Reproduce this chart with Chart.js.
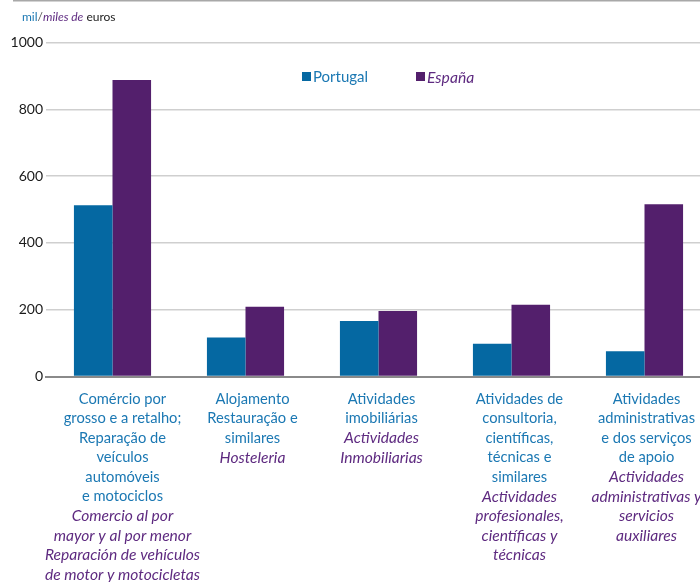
<!DOCTYPE html>
<html>
<head>
<meta charset="utf-8">
<script src="https://cdn.jsdelivr.net/npm/chart.js@4.4.1/dist/chart.umd.min.js"></script>
<style>
  html, body { margin: 0; padding: 0; background: #fff; overflow: hidden; }
  #wrap { position: relative; width: 711px; height: 582px; }
</style>
</head>
<body>
<div id="wrap"><canvas id="myChart"></canvas></div>
<script>
// category labels: Portuguese lines (blue) then Spanish lines (purple italic)
const labelsPt = [
  ["Comércio por", "grosso e a retalho;", "Reparação de", "veículos", "automóveis", "e motociclos"],
  ["Alojamento", "Restauração e", "similares"],
  ["Atividades", "imobiliárias"],
  ["Atividades de", "consultoria,", "científicas,", "técnicas e", "similares"],
  ["Atividades", "administrativas", "e dos serviços", "de apoio"]
];
const labelsEs = [
  ["Comercio al por", "mayor y al por menor", "Reparación de vehículos", "de motor y motocicletas"],
  ["Hosteleria"],
  ["Actividades", "Inmobiliarias"],
  ["Actividades", "profesionales,", "científicas y", "técnicas"],
  ["Actividades", "administrativas y", "servicios", "auxiliares"]
];
const portugal = [513, 117, 166, 98, 76];
const espana = [888, 209, 196, 215, 516];
const yTicks = [0, 200, 400, 600, 800, 1000];

const BLUE = "#0568a2";
const PURPLE = "#531f6c";
const TXT_BLUE = "#1b78b3";
const TXT_PURPLE = "#5e2a80";
const FONT = "Lato, 'Noto Sans', sans-serif";
// the label boxes in the original sit a little right of their bar pairs
const labelNudge = [10, 7, 3, 8, 2];

// draws the unit title, the legend and the two-language category labels
const textPlugin = {
  id: 'textPlugin',
  afterDraw(chart) {
    const ctx = chart.ctx;
    const x = chart.scales.x;
    ctx.save();

    // top rule
    ctx.strokeStyle = "#a8a8a8";
    ctx.lineWidth = 1.5;
    ctx.beginPath();
    ctx.moveTo(13, 0.75);
    ctx.lineTo(chart.width, 0.75);
    ctx.stroke();

    // unit title
    ctx.textBaseline = "middle";
    ctx.textAlign = "left";
    let tx = 22;
    const parts = [
      ["mil", TXT_BLUE, "normal"],
      ["/", "#555", "normal"],
      ["miles de", TXT_PURPLE, "italic"],
      [" euros", "#222", "normal"]
    ];
    parts.forEach(function (p) {
      ctx.font = p[2] + " 12px " + FONT;
      ctx.fillStyle = p[1];
      ctx.fillText(p[0], tx, 17);
      tx += ctx.measureText(p[0]).width;
    });

    // legend
    const items = [
      ["Portugal", BLUE, TXT_BLUE, "normal 15px ", 302],
      ["España", PURPLE, TXT_PURPLE, "italic 15.7px ", 416]
    ];
    items.forEach(function (it) {
      ctx.fillStyle = it[1];
      ctx.fillRect(it[4], 72, 9, 9);
      ctx.font = it[3] + FONT;
      ctx.fillStyle = it[2];
      ctx.fillText(it[0], it[4] + 11, 77.5);
    });

    // category labels
    ctx.textAlign = "center";
    const lineH = 19.5;
    for (let i = 0; i < labelsPt.length; i++) {
      const cx = x.getPixelForValue(i) + labelNudge[i];
      let y = 399;
      ctx.font = "normal 14.7px " + FONT;
      ctx.fillStyle = TXT_BLUE;
      labelsPt[i].forEach(function (l) {
        ctx.fillText(l, cx, y);
        y += lineH;
      });
      ctx.font = "italic 15.6px " + FONT;
      ctx.fillStyle = TXT_PURPLE;
      labelsEs[i].forEach(function (l) {
        ctx.fillText(l, cx, y);
        y += lineH;
      });
    }
    ctx.restore();
  }
};

function drawChart() {
  let ctx = document.getElementById('myChart');
  let myChart = new Chart(ctx, {
    type: 'bar',
    data: {
      labels: labelsPt.map(function (l) { return l.join(" "); }),
      datasets: [{
        label: "Portugal",
        data: portugal,
        backgroundColor: BLUE
      }, {
        label: "España",
        data: espana,
        backgroundColor: PURPLE
      }]
    },
    options: {
      responsive: true,
      maintainAspectRatio: false,
      animation: false,
      layout: { padding: { top: 42.7, left: 0, right: 0, bottom: 0 } },
      categoryPercentage: 0.58,
      barPercentage: 1.0,
      plugins: {
        legend: { display: false },
        tooltip: { enabled: false }
      },
      scales: {
        x: {
          grid: { display: false },
          border: { display: true, color: "#8a8a8a", width: 2 },
          ticks: { display: false },
          afterFit: function (scale) { scale.height = 582 - 376.5; }
        },
        y: {
          min: 0,
          max: 1000,
          afterBuildTicks: function (scale) {
            scale.ticks = yTicks.map(function (v) { return { value: v }; });
          },
          grid: { color: "#cfcfcf", lineWidth: 1.5, drawTicks: false },
          border: { display: false },
          ticks: {
            color: "#1a1a1a",
            padding: 3,
            font: { family: FONT, size: 14 },
            callback: function (v) { return String(v); }
          },
          afterFit: function (scale) { scale.width = 46; }
        }
      }
    },
    plugins: [textPlugin]
  });
}
drawChart();
</script>
</body>
</html>
